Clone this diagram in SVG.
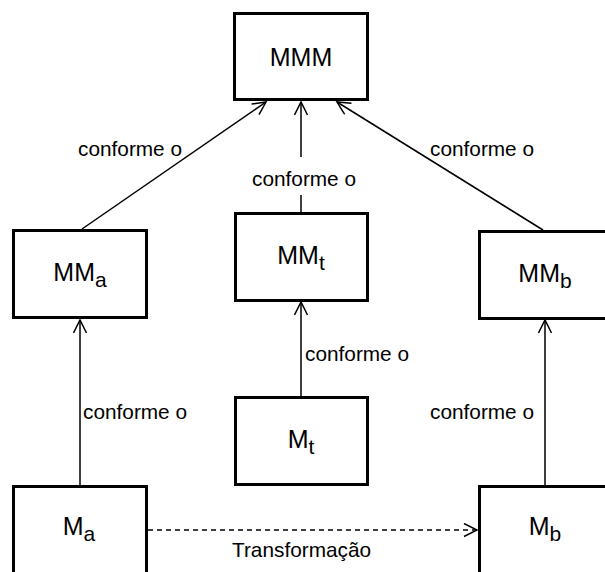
<svg xmlns="http://www.w3.org/2000/svg" width="605" height="572" viewBox="0 0 605 572">
<style>
.box{fill:#fff;stroke:#000;stroke-width:3}
.t{font-family:"Liberation Sans",Arial,sans-serif;font-size:25px;fill:#000;text-anchor:middle}
.s{font-size:21px}
.lbl{font-family:"Liberation Sans",Arial,sans-serif;font-size:20.8px;fill:#000}
.ln{stroke:#000;stroke-width:1.5;fill:none}
</style>
<defs>
<marker id="arr" markerUnits="userSpaceOnUse" markerWidth="20" markerHeight="20" refX="14" refY="7" orient="auto" viewBox="0 0 20 20">
<polyline points="1,0.5 14,7 1,13.5" fill="none" stroke="#000" stroke-width="1.5"/>
</marker>
</defs>
<g id="connectors">
<line class="ln" x1="82" y1="229" x2="266" y2="102" marker-end="url(#arr)"/>
<line class="ln" x1="301" y1="157" x2="301" y2="102" marker-end="url(#arr)"/>
<line class="ln" x1="301" y1="195" x2="301" y2="213"/>
<line class="ln" x1="543" y1="230" x2="337" y2="102" marker-end="url(#arr)"/>
<line class="ln" x1="301" y1="396" x2="301" y2="302" marker-end="url(#arr)"/>
<line class="ln" x1="80" y1="485" x2="80" y2="320" marker-end="url(#arr)"/>
<line class="ln" x1="545" y1="485" x2="545" y2="320" marker-end="url(#arr)"/>
<line class="ln" x1="148" y1="530" x2="477" y2="530" stroke-dasharray="5,4" marker-end="url(#arr)"/>
<text class="lbl" x="78" y="156">conforme o</text>
<text class="lbl" x="252" y="186">conforme o</text>
<text class="lbl" x="430" y="156">conforme o</text>
<text class="lbl" x="305" y="361">conforme o</text>
<text class="lbl" x="83" y="419">conforme o</text>
<text class="lbl" x="430" y="419">conforme o</text>
<text class="lbl" x="232" y="557">Transformação</text>
</g>
<g id="MMM">
<rect class="box" x="234.5" y="13.5" width="133" height="86"/>
<text class="t" x="301" y="66">MMM</text>
</g>
<g id="MMa">
<rect class="box" x="13.5" y="230.5" width="133" height="87"/>
<text class="t" x="80" y="281">MM<tspan class="s" dy="6">a</tspan></text>
</g>
<g id="MMt">
<rect class="box" x="235.5" y="213.5" width="132" height="87"/>
<text class="t" x="301" y="264">MM<tspan class="s" dy="6">t</tspan></text>
</g>
<g id="MMb">
<rect class="box" x="479.5" y="231.5" width="133" height="87"/>
<text class="t" x="545" y="282">MM<tspan class="s" dy="6">b</tspan></text>
</g>
<g id="Mt">
<rect class="box" x="235.5" y="397.5" width="132" height="87"/>
<text class="t" x="301" y="448">M<tspan class="s" dy="6">t</tspan></text>
</g>
<g id="Ma">
<rect class="box" x="13.5" y="486.5" width="133" height="87"/>
<text class="t" x="79" y="535">M<tspan class="s" dy="6">a</tspan></text>
</g>
<g id="Mb">
<rect class="box" x="479.5" y="486.5" width="133" height="87"/>
<text class="t" x="545" y="535">M<tspan class="s" dy="6">b</tspan></text>
</g>
</svg>
